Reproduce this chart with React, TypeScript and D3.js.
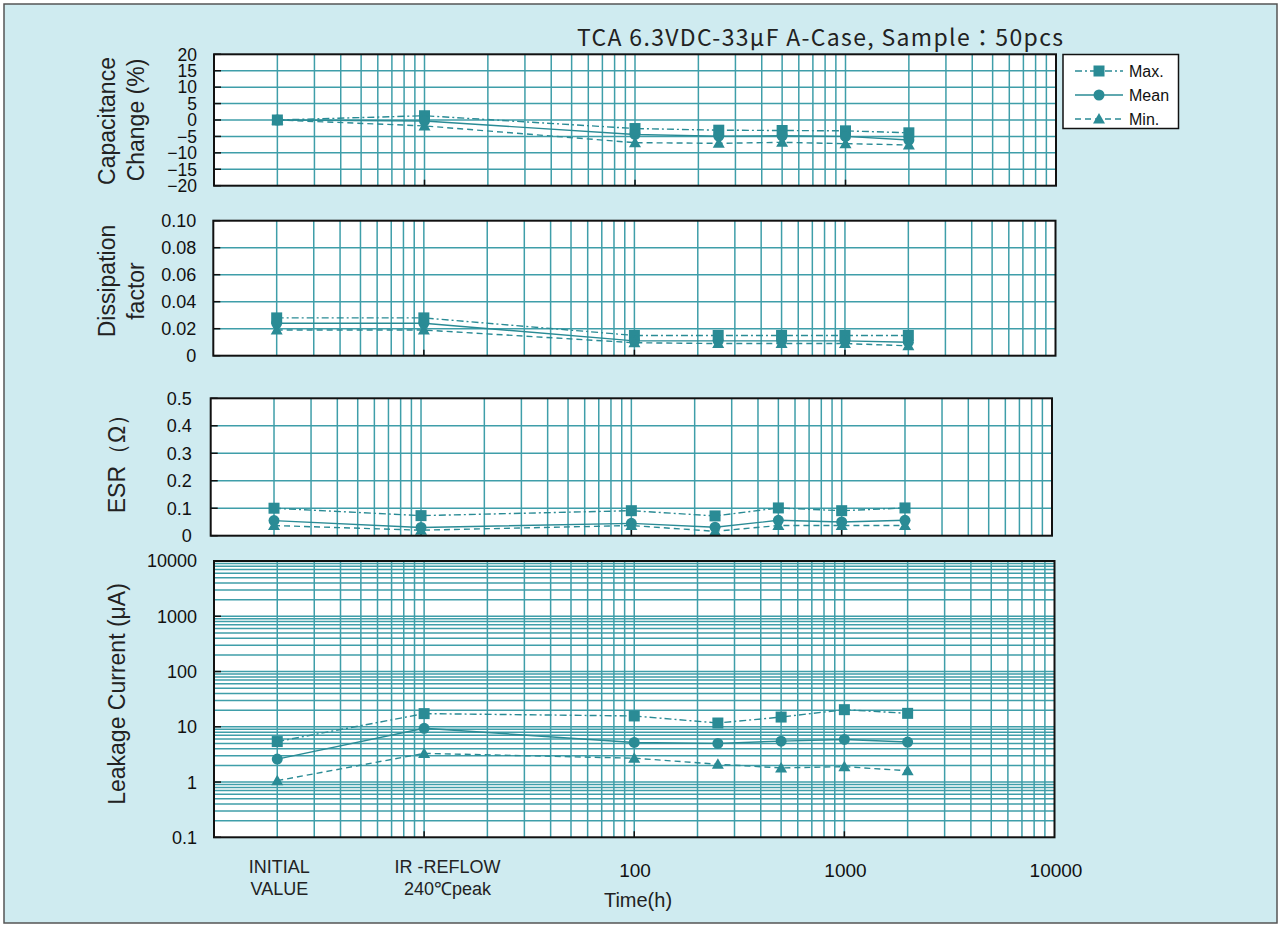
import React from "react";
import * as d3 from "d3";

// ---------- data ----------
const hours = [2, 10, 100, 250, 500, 1000, 2000]; // INITIAL, IR-REFLOW, then test hours
const capMax = [0, 1.3, -2.6, -3.1, -3.2, -3.3, -3.9];
const capMean = [0, -0.3, -4.4, -4.9, -4.8, -5.0, -6.1];
const capMin = [0, -1.8, -6.9, -7.1, -6.8, -7.2, -7.6];

const dfMax = [0.028, 0.028, 0.015, 0.015, 0.015, 0.015, 0.015];
const dfMean = [0.024, 0.024, 0.011, 0.011, 0.011, 0.011, 0.01];
const dfMin = [0.019, 0.019, 0.0096, 0.009, 0.009, 0.009, 0.0073];

const esrMax = [0.1, 0.073, 0.091, 0.072, 0.101, 0.091, 0.101];
const esrMean = [0.055, 0.03, 0.045, 0.031, 0.056, 0.05, 0.056];
const esrMin = [0.037, 0.02, 0.037, 0.016, 0.037, 0.037, 0.037];

const lcMax = [5.4, 17.3, 15.7, 11.7, 15.0, 20.4, 17.5];
const lcMean = [2.6, 9.4, 5.2, 5.0, 5.5, 5.9, 5.3];
const lcMin = [1.06, 3.3, 2.7, 2.1, 1.8, 1.9, 1.6];

const capTicks = [20, 15, 10, 5, 0, -5, -10, -15, -20];
const dfTicks = [0, 0.02, 0.04, 0.06, 0.08, 0.1];
const esrTicks = [0, 0.1, 0.2, 0.3, 0.4, 0.5];
const lcTicks = [0.1, 1, 10, 100, 1000, 10000];
const xTickValues = [100, 1000, 10000];
const categoryLabels = [
  { at: 2, lines: ["INITIAL", "VALUE"], dx: 2 },
  { at: 10, lines: ["IR -REFLOW", "240℃peak"], dx: 23 },
];
const seriesNames = ["Max.", "Mean", "Min."];
const title = "TCA 6.3VDC-33μF A-Case, Sample：50pcs";

// ---------- styling ----------
const TEAL = "#2a8b95";
const GRID = "#3f9ea9";
const BG = "#cfebf0";
const LABEL_FONT = "'Liberation Sans', Arial, sans-serif";
const JP_FONT = "'Noto Sans CJK JP', 'Liberation Sans', sans-serif";
const dashes = ["7 3 2 3", "", "6 4"];
const shapes = ["square", "circle", "triangle"];

type Panel = {
  left: number; right: number; top: number; bottom: number;
  y: any; yTicks: number[]; yGrid: number[]; fmt: (v: number) => string;
  series: number[][]; labelGap: number; labelSize: number;
};

function Marker({ shape, x, y }: { shape: string; x: number; y: number }) {
  if (shape === "square") return <rect x={x - 5.5} y={y - 5.5} width={11} height={11} fill={TEAL} />;
  if (shape === "circle") return <circle cx={x} cy={y} r={5.5} fill={TEAL} />;
  return <path d={`M${x},${y - 6}L${x + 6},${y + 4.5}L${x - 6},${y + 4.5}Z`} fill={TEAL} />;
}

function PanelView({ p }: { p: Panel }) {
  const x = d3.scaleLog().domain([1, 10000]).range([p.left, p.right]);
  const xGrid = x.ticks().filter((v) => v > 1 && v < 10000);
  const line = d3.line<number>().x((_, i) => x(hours[i])).y((v) => p.y(v));
  return (
    <g>
      <rect x={p.left} y={p.top} width={p.right - p.left} height={p.bottom - p.top} fill="#fff" />
      {xGrid.map((v, i) => (
        <line key={"vx" + i} x1={x(v)} x2={x(v)} y1={p.top} y2={p.bottom} stroke={GRID} strokeWidth={1.5} />
      ))}
      {p.yGrid.map((v, i) => (
        <line key={"hy" + i} x1={p.left} x2={p.right} y1={p.y(v)} y2={p.y(v)} stroke={GRID} strokeWidth={1.5} />
      ))}
      {p.yTicks.map((v, i) => (
        <line key={"ty" + i} x1={p.left} x2={p.left + 7} y1={p.y(v)} y2={p.y(v)} stroke="#111" strokeWidth={1.5} />
      ))}
      {[10, 100, 1000].map((v) => (
        <line key={"tx" + v} x1={x(v)} x2={x(v)} y1={p.bottom} y2={p.bottom - 6} stroke="#111" strokeWidth={1.5} />
      ))}
      {p.series.map((s, si) => (
        <path key={"l" + si} d={line(s) || ""} fill="none" stroke={TEAL} strokeWidth={1.4}
          strokeDasharray={dashes[si] || undefined} />
      ))}
      {p.series.map((s, si) =>
        s.map((v, i) => <Marker key={"m" + si + "-" + i} shape={shapes[si]} x={x(hours[i])} y={p.y(v)} />)
      )}
      <rect x={p.left} y={p.top} width={p.right - p.left} height={p.bottom - p.top} fill="none" stroke="#111" strokeWidth={2} />
      {p.yTicks.map((v, i) => (
        <text key={"yl" + i} x={p.left - p.labelGap} y={p.y(v)} dy="0.36em" textAnchor="end"
          fontFamily={LABEL_FONT} fontSize={p.labelSize} fill="#111">{p.fmt(v)}</text>
      ))}
    </g>
  );
}

export default function App() {
  const W = 1281, H = 926;
  const capY = d3.scaleLinear().domain([-20, 20]).range([185.7, 54.3]);
  const dfY = d3.scaleLinear().domain([0, 0.1]).range([355.7, 220.7]);
  const esrY = d3.scaleLinear().domain([0, 0.5]).range([535.7, 398.3]);
  const lcY = d3.scaleLog().domain([0.1, 10000]).range([837.3, 561]);

  const panels: Panel[] = [
    {
      left: 214, right: 1056, top: 54.3, bottom: 185.7, y: capY, yTicks: capTicks,
      yGrid: capTicks.filter((v) => Math.abs(v) < 20), fmt: (v) => (v < 0 ? "−" + Math.abs(v) : String(v)),
      series: [capMax, capMean, capMin], labelGap: 17, labelSize: 17.5,
    },
    {
      left: 213.3, right: 1055.5, top: 220.7, bottom: 355.7, y: dfY, yTicks: dfTicks,
      yGrid: dfTicks.filter((v) => v > 0 && v < 0.1), fmt: (v) => (v === 0 ? "0" : v.toFixed(2)),
      series: [dfMax, dfMean, dfMin], labelGap: 17, labelSize: 18,
    },
    {
      left: 210.7, right: 1052, top: 398.3, bottom: 535.7, y: esrY, yTicks: esrTicks,
      yGrid: esrTicks.filter((v) => v > 0 && v < 0.5), fmt: (v) => (v === 0 ? "0" : v.toFixed(1)),
      series: [esrMax, esrMean, esrMin], labelGap: 19, labelSize: 18,
    },
    {
      left: 214, right: 1054.5, top: 561, bottom: 837.3, y: lcY, yTicks: lcTicks,
      yGrid: lcY.ticks().filter((v: number) => v > 0.1 && v < 10000), fmt: (v) => String(v),
      series: [lcMax, lcMean, lcMin], labelGap: 17, labelSize: 18,
    },
  ];

  const xAxis = d3.scaleLog().domain([1, 10000]).range([214, 1056]);
  const titles = [
    { lines: [{ t: "Capacitance", x: 107, y: 121 }, { t: "Change (%)", x: 136, y: 120 }] },
    { lines: [{ t: "Dissipation", x: 107, y: 281 }, { t: "factor", x: 136, y: 291 }] },
    { lines: [{ t: "ESR（Ω）", x: 117, y: 458 }] },
    { lines: [{ t: "Leakage  Current (μA)", x: 117, y: 694 }] },
  ];
  const legendY = [71, 95, 119];

  return (
    <svg width={W} height={H} style={{ position: "absolute", left: 0, top: 0, background: "#fff" }}>
      <rect x={4} y={4} width={1273} height={919} fill={BG} stroke="#555" strokeWidth={1.5} />
      <text x={577} y={46} textLength={486} lengthAdjust="spacing" fontFamily={JP_FONT} fontSize={23} fill="#222">{title}</text>
      {panels.map((p, i) => <PanelView key={i} p={p} />)}
      {titles.map((tt, i) =>
        tt.lines.map((l, j) => (
          <text key={i + "-" + j} transform={`translate(${l.x},${l.y}) rotate(-90)`} dy="0.36em"
            textAnchor="middle" fontFamily={LABEL_FONT} fontSize={23} fill="#222">{l.t}</text>
        ))
      )}
      {xTickValues.map((v) => (
        <text key={"xt" + v} x={xAxis(v)} y={877} textAnchor="middle" fontFamily={LABEL_FONT} fontSize={19} fill="#111">{v}</text>
      ))}
      {categoryLabels.map((c, i) =>
        c.lines.map((l, j) => (
          <text key={"c" + i + j} x={xAxis(c.at) + c.dx} y={873 + j * 22} textAnchor="middle"
            fontFamily={LABEL_FONT} fontSize={18} fill="#222">{l}</text>
        ))
      )}
      <text x={638} y={907} textAnchor="middle" fontFamily={LABEL_FONT} fontSize={20} fill="#222">Time(h)</text>
      <g>
        <rect x={1063} y={54.5} width={115.5} height={74} fill="#fff" stroke="#111" strokeWidth={1.5} />
        {seriesNames.map((n, i) => (
          <g key={n}>
            <line x1={1075} x2={1123} y1={legendY[i]} y2={legendY[i]} stroke={TEAL} strokeWidth={1.4}
              strokeDasharray={dashes[i] || undefined} />
            <Marker shape={shapes[i]} x={1099} y={legendY[i]} />
            <text x={1129} y={legendY[i]} dy="0.36em" fontFamily={LABEL_FONT} fontSize={16} fill="#111">{n}</text>
          </g>
        ))}
      </g>
    </svg>
  );
}
